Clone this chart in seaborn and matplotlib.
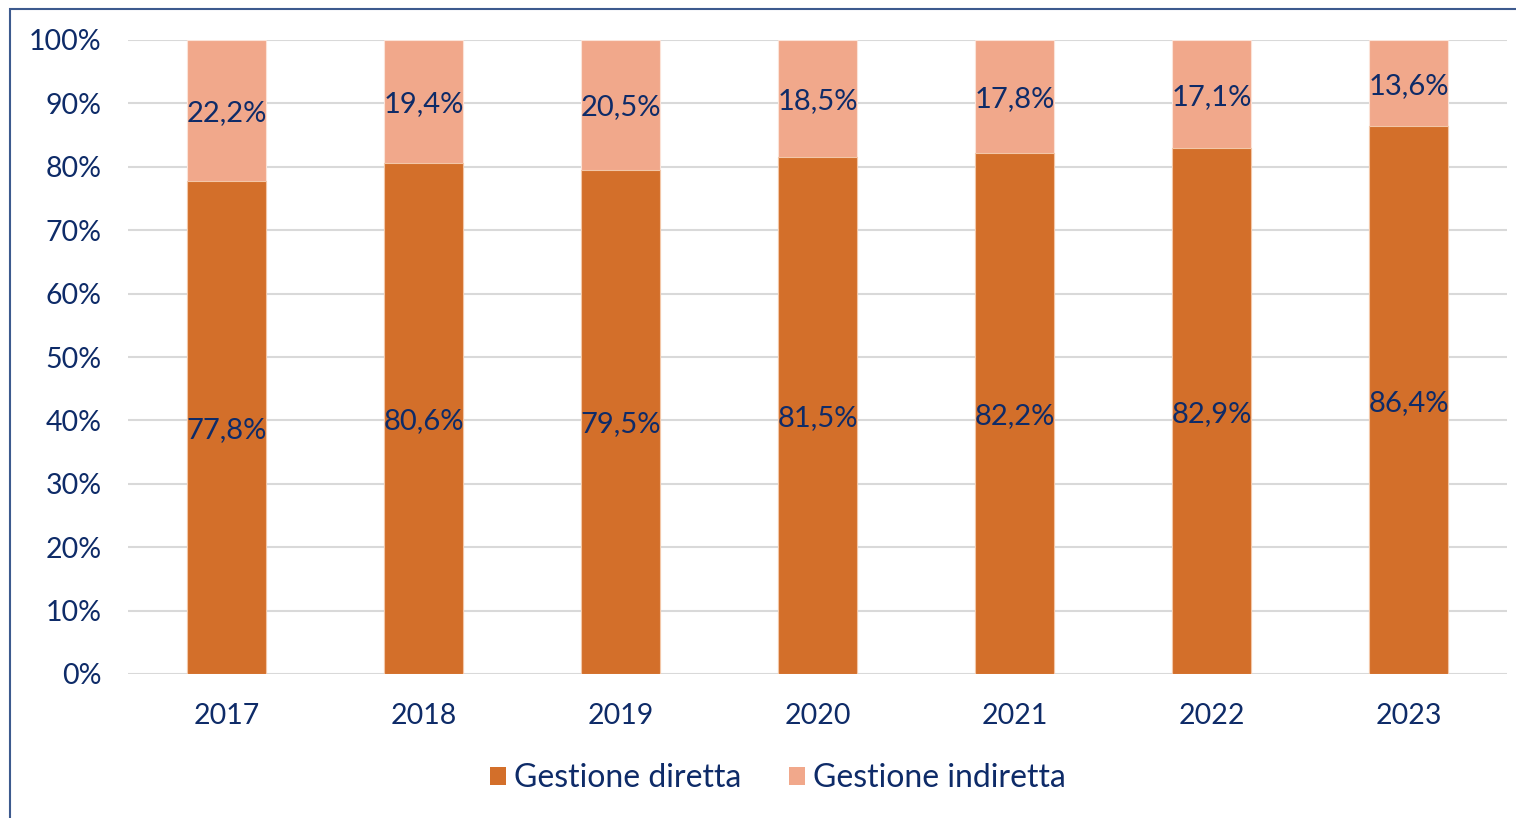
import matplotlib
matplotlib.use("Agg")
import matplotlib.pyplot as plt
import seaborn as sns
import pandas as pd
import numpy as np
from matplotlib.patches import Rectangle, Patch

years = ["2017", "2018", "2019", "2020", "2021", "2022", "2023"]
diretta = [77.8, 80.6, 79.5, 81.5, 82.2, 82.9, 86.4]
indiretta = [22.2, 19.4, 20.5, 18.5, 17.8, 17.1, 13.6]
series_names = ["Gestione diretta", "Gestione indiretta"]
colors = ["#D36F2A", "#F1A88B"]
text_color = "#0E2B68"

sns.set_theme(style="white")
plt.rcParams["font.family"] = ["Lato", "DejaVu Sans"]

W, H = 1516, 818
fig = plt.figure(figsize=(W / 100, H / 100), dpi=100)
ax = fig.add_axes([128 / W, 1 - 674 / H, (1507 - 128) / W, (674 - 40) / H])

df = pd.DataFrame({"year": years, "diretta": diretta, "indiretta": indiretta})
df["total"] = df["diretta"] + df["indiretta"]

sns.barplot(data=df, x="year", y="total", color=colors[1], width=0.40,
            saturation=1, ax=ax, zorder=2, edgecolor="#FBE3D8", linewidth=0.8)
sns.barplot(data=df, x="year", y="diretta", color=colors[0], width=0.40,
            saturation=1, ax=ax, zorder=3, edgecolor="#F3C7A8", linewidth=0.8)

for i, (d, ind) in enumerate(zip(diretta, indiretta)):
    ax.text(i, d / 2, f"{d:.1f}%".replace(".", ","), ha="center", va="center_baseline",
            fontsize=21, color=text_color, zorder=5)
    ax.text(i, d + ind / 2, f"{ind:.1f}%".replace(".", ","), ha="center", va="center_baseline",
            fontsize=21, color=text_color, zorder=5)

ax.set_ylim(0, 100)
ax.set_xlim(-0.5, len(years) - 0.5)
ax.set_yticks(np.arange(0, 101, 10))
ax.set_yticklabels([f"{v}%" for v in range(0, 101, 10)])
ax.yaxis.grid(True, color="#D9D9D9", linewidth=1.5, zorder=0)
ax.set_axisbelow(True)
ax.tick_params(axis="both", labelsize=20.5, colors=text_color, length=0)
ax.tick_params(axis="y", pad=19)
ax.tick_params(axis="x", pad=21)
ax.set_xlabel("")
ax.set_ylabel("")
for s in ax.spines.values():
    s.set_visible(False)

handles = [Patch(facecolor=c, edgecolor="none") for c in colors]
fig.legend(handles, series_names, loc="center", bbox_to_anchor=(778 / W, 1 - 778 / H),
           ncol=2, frameon=False, fontsize=23, labelcolor=text_color,
           handlelength=0.5, handleheight=0.5, handletextpad=0.25, columnspacing=1.5)

fig.patches.append(Rectangle((10 / W, -0.1), 1.2, (1 - 9 / H) + 0.1, transform=fig.transFigure,
                             fill=False, edgecolor="#3D5A8E", linewidth=1.5, zorder=10))

fig.savefig("out.png", dpi=100)
